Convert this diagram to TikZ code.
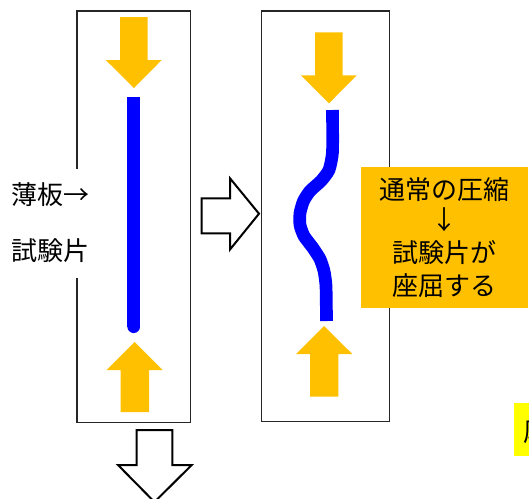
\documentclass[tikz,border=0pt]{standalone}
\usepackage{fontspec}
\newfontfamily\jp{Noto Sans CJK JP}
\definecolor{amber}{HTML}{FFC000}
\definecolor{specblue}{HTML}{0000FF}
\definecolor{hilite}{HTML}{FFFF00}
\tikzset{
  panel/.style={draw=black!85, line width=1.1pt},
  force/.style={fill=amber, draw=none},
  blockarrow/.style={fill=white, draw=black, line width=2pt, line join=miter},
  plate/.style={draw=specblue, line width=12.7pt},
  jptext/.style={font=\jp\fontsize{26}{33}\selectfont, text=black, align=center}
}
\begin{document}
\begin{tikzpicture}[x=1pt,y=-1pt]
\useasboundingbox (0,0) rectangle (529,498);
\begin{scope}
\clip (0,0) rectangle (529,498);
% panels
\draw[panel] (77,11) rectangle (190.7,422.7);
\draw[panel] (261.7,11) rectangle (389.3,421.7);
% left panel: straight specimen
\draw[plate, line cap=butt] (133.7,96.7) -- (133.7,326.7);
\fill[specblue] (133.7,326.7) circle (6.35);
\fill[force] (120,17) -- (147.7,17) -- (147.7,60) -- (161.7,60) -- (134,88) -- (105.7,60) -- (120,60) -- cycle;
\fill[force] (120.7,412) -- (149,412) -- (149,370) -- (162.7,370) -- (134.7,342) -- (106.7,370) -- (120.7,370) -- cycle;
% right panel: buckled specimen
\draw[plate, line cap=butt, line join=round] plot[smooth, tension=0.35] coordinates {
 (332.5,110) (332.5,152) (329,170) (321,181) (310,191) (303.5,201) (300,213) (300,225) (304,236) (313,248) (320,259) (324,271) (326,286) (326.5,321)};
\fill[force] (315,32.3) -- (342.7,32.3) -- (342.7,75.3) -- (356.7,75.3) -- (329,103.3) -- (301,75.3) -- (315,75.3) -- cycle;
\fill[force] (310,396.7) -- (338.3,396.7) -- (338.3,354) -- (352.3,354) -- (324,326) -- (296,354) -- (310,354) -- cycle;
% block arrows
\draw[blockarrow] (201.7,198.3) -- (230,198.3) -- (230,178.3) -- (259,213.7) -- (230,249.5) -- (230,233.3) -- (201.7,233.3) -- cycle;
\draw[blockarrow] (136.7,430) -- (172.3,430) -- (172.3,465) -- (191.7,465) -- (154.5,502) -- (118,465) -- (136.7,465) -- cycle;
% labels
\node[jptext, fill=white, font=\jp\fontsize{26}{56}\selectfont, minimum height=109pt, minimum width=96pt, inner sep=0pt] (leftlabel) at (50,223) {薄板→\\試験片};
\node[jptext, fill=amber, minimum width=167pt, minimum height=141pt, inner sep=0pt, anchor=north west] (result) at (361,167) {\raisebox{-3pt}{通常の圧縮}\\↓\\試験片が\\座屈する};
\fill[hilite] (514.3,403.3) rectangle (529,456);
\node[jptext, anchor=west, inner sep=0pt] (nexttext) at (523,432) {厚};
\end{scope}
\end{tikzpicture}
\end{document}
